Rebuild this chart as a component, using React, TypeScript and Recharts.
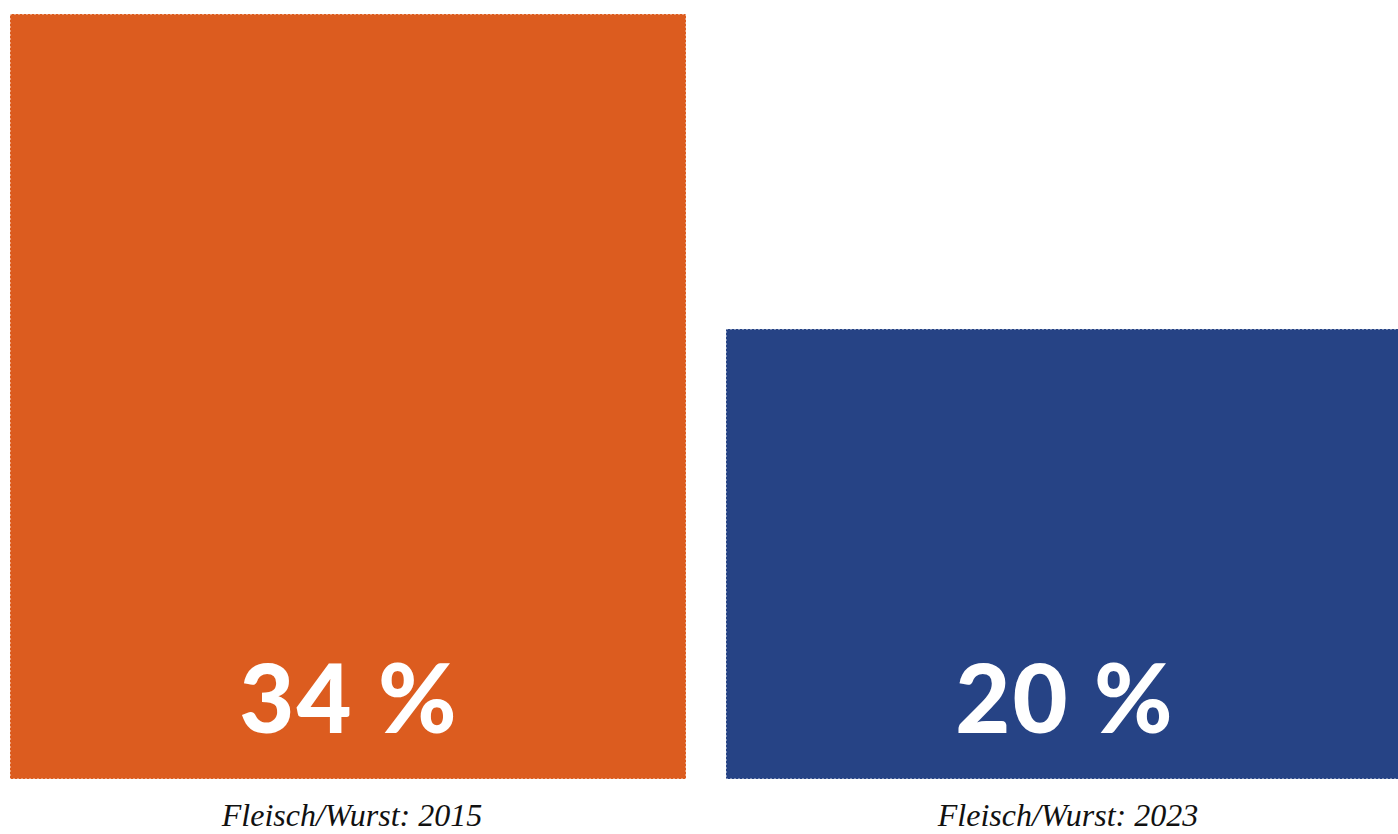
import { BarChart, Bar, XAxis, YAxis, Cell, LabelList } from 'recharts';

const categories = ['Fleisch/Wurst: 2015', 'Fleisch/Wurst: 2023'];
const shares = [34, 20];
const colors = ['#DC5C1F', '#264385'];

const data = categories.map((name, i) => ({ name, value: shares[i] }));

const CategoryTick = (props: any) => {
  const { x, y, payload } = props;
  return (
    <text
      x={x + 4}
      y={y + 39}
      textAnchor="middle"
      fill="#111"
      style={{ fontFamily: '"Liberation Serif", serif', fontStyle: 'italic', fontSize: 32 }}
    >
      {payload.value}
    </text>
  );
};

const ValueLabel = (props: any) => {
  const { x, y, width, height, value } = props;
  return (
    <text
      x={x + width / 2 + 1}
      y={y + height - 46}
      textAnchor="middle"
      fill="#fff"
      style={{ fontFamily: 'Lato, sans-serif', fontWeight: 900, fontSize: 95, letterSpacing: 2 }}
    >
      {value} %
    </text>
  );
};

export default function App() {
  return (
    <div style={{ position: 'absolute', left: 0, top: 0, width: 1398, height: 834, overflow: 'hidden', background: '#fff' }}>
      <div style={{ marginLeft: -10 }}>
        <BarChart width={1432} height={834} data={data} margin={{ top: 14, right: 0, bottom: 0, left: 0 }}>
          <XAxis dataKey="name" height={55} axisLine={false} tickLine={false} tick={<CategoryTick />} interval={0} />
          <YAxis hide domain={[0, 34]} />
          <Bar
            dataKey="value"
            barSize={676}
            isAnimationActive={false}
            stroke="#ffffff"
            strokeOpacity={0.8}
            strokeDasharray="2 2"
            strokeWidth={1}
          >
            {data.map((d, i) => (
              <Cell key={d.name} fill={colors[i]} />
            ))}
            <LabelList dataKey="value" content={<ValueLabel />} />
          </Bar>
        </BarChart>
      </div>
    </div>
  );
}
